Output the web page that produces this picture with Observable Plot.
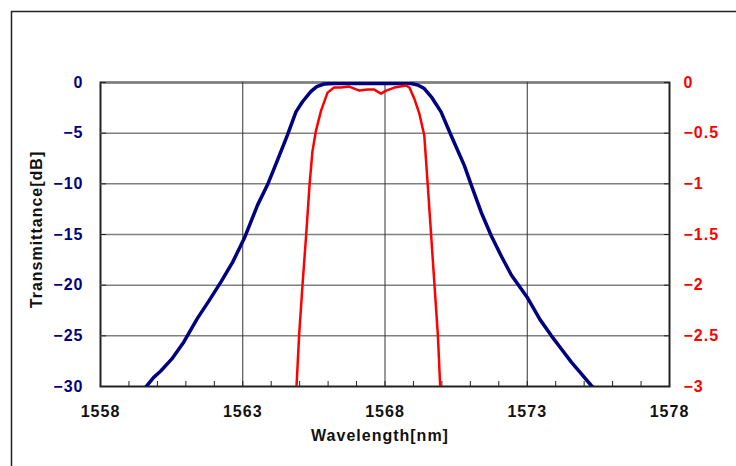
<!DOCTYPE html>
<html><head><meta charset="utf-8">
<script src="https://cdn.jsdelivr.net/npm/d3@7"></script>
<script src="https://cdn.jsdelivr.net/npm/@observablehq/plot@0.6"></script>
<style>html,body{margin:0;padding:0;background:#fff;overflow:hidden}</style>
</head><body><div id="chart"></div>
<script>
// Blue curve: transmittance [dB] (left axis)
const blueWavelength = [1559.55, 1559.87, 1560.11, 1560.5, 1560.93, 1561.4, 1561.8, 1562.23, 1562.65, 1563.05, 1563.52, 1563.87, 1564.2, 1564.57, 1564.87, 1565.1, 1565.39, 1565.6, 1565.86, 1566.2, 1567.0, 1568.0, 1568.92, 1569.15, 1569.38, 1569.65, 1569.97, 1570.32, 1570.79, 1571.03, 1571.38, 1571.73, 1572.1, 1572.44, 1573.02, 1573.45, 1573.85, 1574.2, 1574.55, 1575.25, 1575.4];
const blueDb = [-30.2, -29.1, -28.5, -27.3, -25.6, -23.3, -21.6, -19.7, -17.7, -15.4, -12.1, -10.1, -7.8, -5.2, -2.9, -1.9, -0.9, -0.4, -0.15, -0.1, -0.1, -0.1, -0.1, -0.25, -0.6, -1.5, -2.9, -5.2, -8.2, -10.1, -12.8, -15.1, -17.2, -19.0, -21.3, -23.4, -25.0, -26.3, -27.6, -29.9, -30.3];
// Red curve: transmittance [dB] (right axis)
const redWavelength = [1564.89, 1564.98, 1565.1, 1565.23, 1565.35, 1565.45, 1565.57, 1565.75, 1565.98, 1566.21, 1566.45, 1566.74, 1567.1, 1567.39, 1567.62, 1567.86, 1568.04, 1568.33, 1568.74, 1568.86, 1569.03, 1569.21, 1569.38, 1569.5, 1569.62, 1569.74, 1569.86, 1569.94];
const redDb = [-3.0, -2.5, -2.0, -1.5, -1.0, -0.68, -0.48, -0.28, -0.1, -0.05, -0.05, -0.04, -0.08, -0.07, -0.07, -0.11, -0.08, -0.05, -0.03, -0.05, -0.16, -0.31, -0.52, -1.0, -1.5, -2.0, -2.5, -3.0];

const xTicks = [1558, 1563, 1568, 1573, 1578];
const xMinorTicks = d3.range(1558, 1579, 1);
const leftTicks = [0, -5, -10, -15, -20, -25, -30];
const rightTicks = [0, -0.5, -1, -1.5, -2, -2.5, -3];
const xTitle = "Wavelength[nm]";
const yTitle = "Transmittance[dB]";

const scaleFactor = leftTicks[leftTicks.length - 1] / rightTicks[rightTicks.length - 1];
const blue = blueWavelength.map((wl, i) => ({wl, db: blueDb[i]}));
const red = redWavelength.map((wl, i) => ({wl, db: redDb[i]}));
const fmt = d3.format("");
const fmtX = d3.format("d");

const chart = Plot.plot({
  width: 736, height: 466,
  marginLeft: 100, marginRight: 67, marginTop: 82, marginBottom: 80,
  style: {fontFamily: "'Liberation Sans', Arial, sans-serif", fontSize: "16px", fontWeight: "bold", letterSpacing: "1px", background: "#fff", overflow: "visible"},
  x: {domain: [xTicks[0], xTicks[xTicks.length - 1]]},
  y: {domain: [leftTicks[leftTicks.length - 1], leftTicks[0]]},
  marks: [
    Plot.frame({stroke: "#222", strokeWidth: 2}),
    Plot.gridY({ticks: leftTicks.slice(0, -1), stroke: "#808080", strokeOpacity: 1, strokeWidth: 1.5}),
    Plot.gridX({ticks: xTicks.slice(1, -1), stroke: "#333", strokeOpacity: 1, strokeWidth: 1}),
    Plot.axisX({ticks: xMinorTicks, tickSize: -5, tickFormat: () => "", stroke: "#222", label: null}),
    Plot.axisX({ticks: xTicks, tickSize: 0, tickPadding: 19, tickFormat: fmtX, fill: "#111", label: null}),
    Plot.axisY({anchor: "left", ticks: leftTicks, tickSize: -6, tickPadding: 23, fill: "#000080", stroke: "#222", label: null}),
    Plot.axisY({anchor: "right", ticks: leftTicks, tickSize: -6, tickPadding: 20, tickFormat: d => fmt(d / scaleFactor), fill: "#ff0000", stroke: "#222", label: null}),
    Plot.line(blue, {x: "wl", y: "db", stroke: "#000080", strokeWidth: 3.5, clip: true}),
    Plot.line(red, {x: "wl", y: d => d.db * scaleFactor, stroke: "#ff0000", strokeWidth: 2.5, clip: true}),
    Plot.text([xTitle], {frameAnchor: "bottom", dy: 54, dx: -5, textAnchor: "middle", fill: "#111"}),
    Plot.text([yTitle], {frameAnchor: "left", dx: -64, dy: -5, rotate: -90, textAnchor: "middle", fill: "#111"})
  ]
});
d3.select(chart).append("path")
  .attr("d", "M11.5,466V11.5H736")
  .attr("fill", "none").attr("stroke", "#222").attr("stroke-width", 1.5);
document.getElementById("chart").appendChild(chart);
</script>
</body></html>
